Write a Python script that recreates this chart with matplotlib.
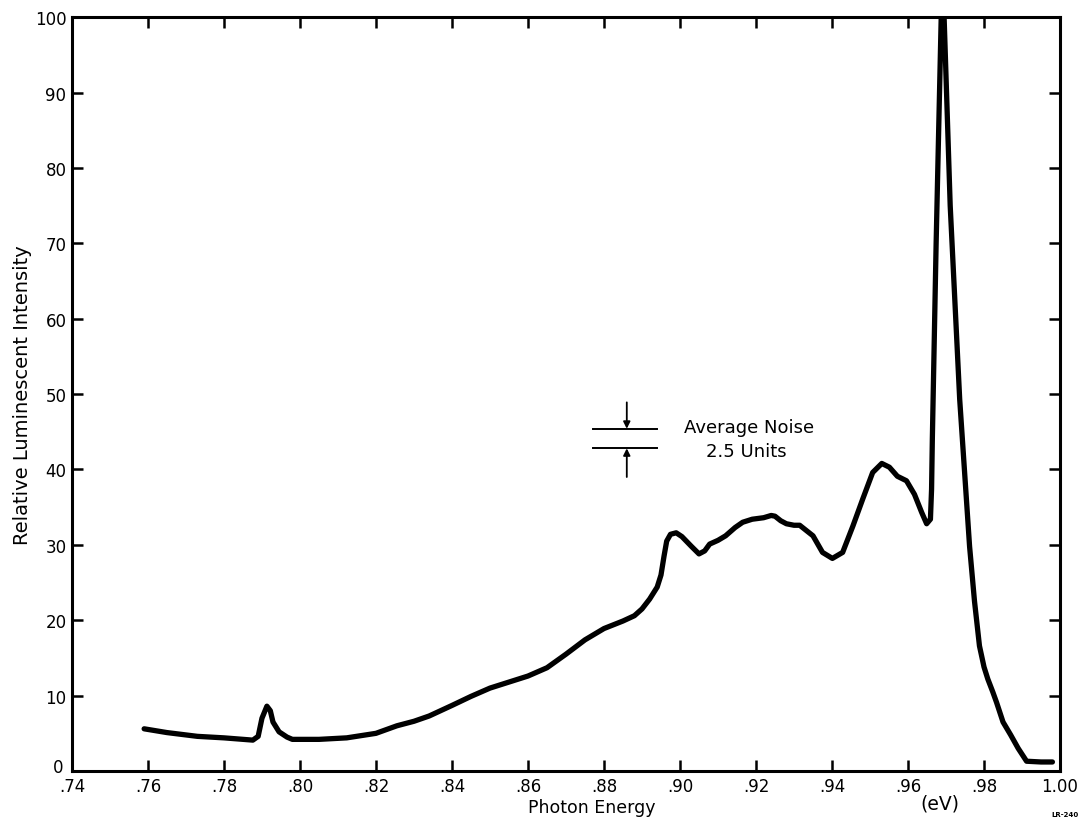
import matplotlib.pyplot as plt
import matplotlib.transforms as mtransforms

# Luminescence spectrum, values
energy = [0.759, 0.765, 0.773, 0.780, 0.7876, 0.7890, 0.7900, 0.7913, 0.7922,
          0.7929, 0.7945, 0.7966, 0.798, 0.805, 0.8123, 0.820, 0.8255, 0.830,
          0.834, 0.840, 0.845, 0.850, 0.855, 0.860, 0.865, 0.870, 0.875,
          0.880, 0.885, 0.888, 0.890, 0.892, 0.894, 0.8950, 0.8958, 0.8965,
          0.8975, 0.899, 0.9005, 0.903, 0.905, 0.9065, 0.9078, 0.910, 0.912,
          0.9145, 0.9165, 0.919, 0.922, 0.924, 0.925, 0.9265, 0.928, 0.930,
          0.9315, 0.935, 0.9375, 0.9401, 0.9428, 0.9455, 0.9481, 0.9507,
          0.9531, 0.9551, 0.9572, 0.9596, 0.9617, 0.9636, 0.9649, 0.9659,
          0.9662, 0.9664, 0.9674, 0.9688, 0.9694, 0.9711, 0.9736, 0.9762,
          0.9775, 0.9788, 0.980, 0.981, 0.9823, 0.9833, 0.985, 0.987, 0.989,
          0.9912, 0.995, 0.998]
intensity = [5.6, 5.1, 4.6, 4.4, 4.1, 4.6, 7.0, 8.6, 8.0, 6.5, 5.2, 4.5, 4.2,
             4.2, 4.4, 5.0, 6.0, 6.6, 7.3, 8.7, 9.9, 11.0, 11.8, 12.6, 13.7,
             15.5, 17.4, 18.9, 19.9, 20.6, 21.5, 22.8, 24.4, 26.0, 28.5, 30.5,
             31.4, 31.6, 31.1, 29.8, 28.8, 29.2, 30.1, 30.6, 31.2, 32.3, 33.0,
             33.4, 33.6, 33.9, 33.8, 33.2, 32.8, 32.6, 32.6, 31.2, 29.0, 28.2,
             29.0, 32.5, 36.1, 39.6, 40.8, 40.3, 39.1, 38.5, 36.7, 34.3, 32.8,
             33.4, 37.4, 44.0, 70.0, 101.5, 101.5, 75.0, 49.3, 29.8, 22.5, 16.6,
             13.8, 12.2, 10.5, 9.1, 6.5, 4.8, 3.0, 1.3, 1.2, 1.2]

xticks = [0.74, 0.76, 0.78, 0.80, 0.82, 0.84, 0.86, 0.88, 0.90, 0.92, 0.94, 0.96, 0.98, 1.00]
xticklabels = ['.74', '.76', '.78', '.80', '.82', '.84', '.86', '.88', '.90',
               '.92', '.94', '.96', '.98', '1.00']
yticks = list(range(0, 101, 10))

# noise bar: two levels 2.5 units apart
noise_x = [0.8771, 0.8939]
noise_low, noise_high = 42.8, 45.4

plt.rcParams['font.family'] = ['DejaVu Sans']

fig = plt.figure(figsize=(10.9, 8.28), dpi=100)
ax = fig.add_axes([0.066, 0.0676, 0.9065, 0.9105])

ax.plot(energy, intensity, color='black', linewidth=3.8,
        solid_joinstyle='round', solid_capstyle='round', clip_on=True)

ax.set_xlim(0.74, 1.00)
ax.set_ylim(0, 100)
ax.set_xticks(xticks)
ax.set_xticklabels(xticklabels)
ax.set_yticks(yticks)
ax.tick_params(direction='in', length=8, width=1.8, labelsize=12,
               top=True, right=True, pad=4)
for s in ax.spines.values():
    s.set_linewidth(2.2)

# lift the "0" a little so it clears ".74", as in the original
zero_lbl = ax.get_yticklabels()[0]
zero_lbl.set_transform(zero_lbl.get_transform() +
                       mtransforms.ScaledTranslation(-2 / 72, 4 / 72, fig.dpi_scale_trans))

ax.set_ylabel('Relative Luminescent Intensity', fontsize=14, labelpad=2)
ax.text(0.8768, -3.6, 'Photon Energy', fontsize=12.5, ha='center', va='top')
ax.text(0.9685, -3.0, '(eV)', fontsize=13.5, ha='center', va='top')
fig.text(0.977, 0.013, 'LR-240', fontsize=5, ha='center', weight='bold')

# average noise marker
ax.plot(noise_x, [noise_high, noise_high], color='black', linewidth=1.4)
ax.plot(noise_x, [noise_low, noise_low], color='black', linewidth=1.4)
xm = 0.886
ax.annotate('', xy=(xm, noise_high), xytext=(xm, noise_high + 3.5),
            arrowprops=dict(arrowstyle='-|>', color='black', lw=1.3,
                            mutation_scale=10, shrinkA=0, shrinkB=0))
ax.annotate('', xy=(xm, noise_low), xytext=(xm, noise_low - 3.8),
            arrowprops=dict(arrowstyle='-|>', color='black', lw=1.3,
                            mutation_scale=10, shrinkA=0, shrinkB=0))
ax.text(0.9183, 45.6, 'Average Noise', fontsize=13, ha='center', va='center')
ax.text(0.9175, 42.4, '2.5 Units', fontsize=13, ha='center', va='center')

fig.savefig('out.png', dpi=100)
